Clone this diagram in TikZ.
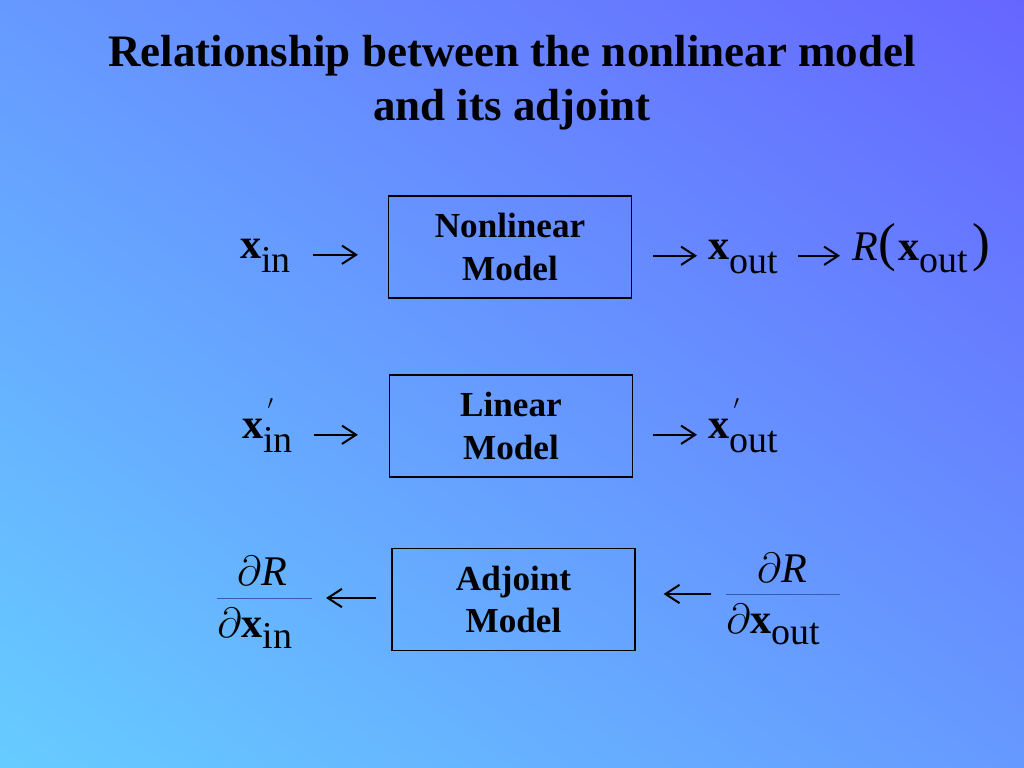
\documentclass[tikz,border=0pt]{standalone}
\usepackage{fix-cm}
\usepackage{fontspec}
\setmainfont{Liberation Serif}
\usepackage{tikz}
\usetikzlibrary{arrows.meta,shadings}

\newdimen\pxu \pxu=0.025cm
\definecolor{bgtop}{RGB}{102,102,255}
\definecolor{bgmid}{RGB}{102,153,255}
\definecolor{bgbot}{RGB}{102,204,255}
\definecolor{barcol}{RGB}{60,90,170}
\newcommand{\vecx}{{\fontsize{30}{30}\selectfont\textbf{x}}}
\newcommand{\italR}{{\fontsize{30}{30}\selectfont\textit{R}}}
\newcommand{\pd}{{\fontsize{30}{30}\selectfont$\partial$}}
\newcommand{\lowsub}[2][10pt]{\raisebox{-#1}{#2}}
\newcommand{\primemark}{\rlap{\kern3pt\raisebox{20pt}{\fontsize{14}{14}\selectfont$\prime$}}}
\newcommand{\bigparen}[1]{{\fontsize{38}{38}\selectfont #1}}

\begin{document}
\begin{tikzpicture}[x=\pxu, y=-\pxu,
        model/.style = {draw, line width=1.2\pxu, minimum width=243\pxu, minimum height=102\pxu,
                        align=center, inner sep=0, font=\fontsize{25}{30}\selectfont\bfseries},
        var/.style = {inner sep=0, font=\fontsize{27}{27}\selectfont},
        conn/.style = {line width=2\pxu, -{Straight Barb[length=10pt,width=13pt]}},
        fracbar/.style = {draw=barcol, line width=1\pxu}
        ]
    \shade[upper left=bgmid, upper right=bgtop, lower left=bgbot, lower right=bgmid] (0,0) rectangle (1024,768);
    \useasboundingbox (0,0) rectangle (1024,768);

    \node (title) [font=\fontsize{32}{39}\selectfont\bfseries, align=center, inner sep=0, anchor=base] at (512,121)
        {Relationship between the nonlinear model\\and its adjoint};

    \node (nl)  [model] at (510,247)     {Nonlinear\\Model};
    \node (lin) [model] at (511,426)     {Linear\\Model};
    \node (adj) [model] at (513.5,599.5) {Adjoint\\Model};

    % nonlinear row
    \node (xin)  [var, anchor=base west] at (240,258) {\vecx\lowsub{in}};
    \node (xout) [var, anchor=base west] at (708,259) {\vecx\lowsub{out}};
    \node (Rx)   [var, anchor=base west] at (852,260) {\italR\bigparen{(}\kern2pt\vecx\lowsub[9pt]{out}\kern3pt\bigparen{)}};

    % linear row
    \node (xinp)  [var, anchor=base west] at (242,438) {\vecx\primemark\lowsub{in}};
    \node (xoutp) [var, anchor=base west] at (708,438) {\vecx\primemark\lowsub{out}};

    % adjoint row
    \node (numin)  [var, anchor=base]      at (262,585) {\pd\italR};
    \node (denin)  [var, anchor=base west] at (217,637) {\pd\vecx\lowsub[8pt]{in}};
    \node (numout) [var, anchor=base]      at (782,582) {\pd\italR};
    \node (denout) [var, anchor=base west] at (726,633) {\pd\vecx\lowsub[8pt]{out}};
    \coordinate (barinL)  at (217,598);
    \coordinate (barinR)  at (312,598);
    \coordinate (baroutL) at (726,594);
    \coordinate (baroutR) at (840,594);
    \draw[fracbar] (barinL) -- (barinR);
    \draw[fracbar] (baroutL) -- (baroutR);

    \draw[conn, shorten <=22\pxu, shorten >=30\pxu] (xin.mid east) -- (nl.west |- xin.mid);
    \draw[conn, shorten <=21\pxu, shorten >=11\pxu] (nl.east |- xout.mid) -- (xout.mid west);
    \draw[conn, shorten <=20\pxu, shorten >=12\pxu] (xout.mid east) -- (Rx.west |- xout.mid);
    \draw[conn, shorten <=21\pxu, shorten >=31\pxu] (xinp.mid east) -- (lin.west |- xinp.mid);
    \draw[conn, shorten <=20\pxu, shorten >=11\pxu] (lin.east |- xoutp.mid) -- (xoutp.mid west);
    \draw[conn, shorten <=15\pxu, shorten >=14\pxu] (adj.west |- barinR) -- (barinR);
    \draw[conn, shorten <=15\pxu, shorten >=28\pxu] (baroutL) -- (adj.east |- baroutL);
\end{tikzpicture}
\end{document}
